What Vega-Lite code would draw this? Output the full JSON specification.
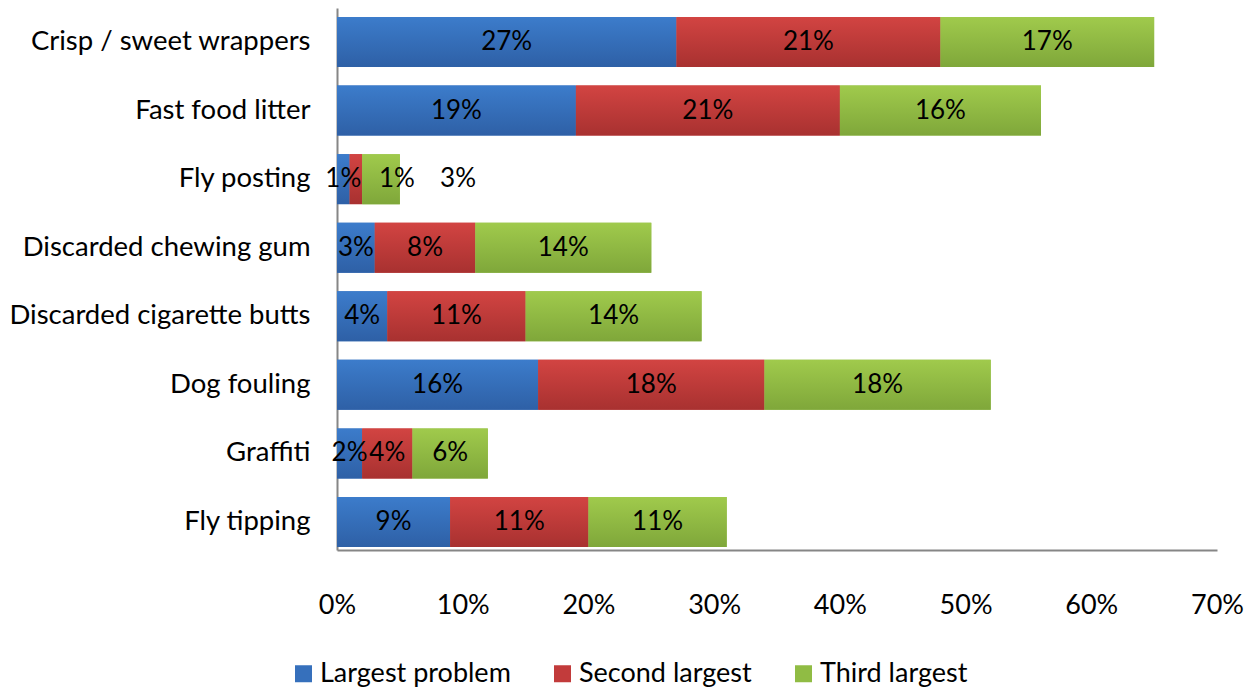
{
  "$schema": "https://vega.github.io/schema/vega-lite/v6.json",
  "autosize": {"type": "none"},
  "width": 880,
  "height": 542,
  "padding": {"left": 337, "top": 8, "right": 42, "bottom": 139},
  "background": "white",
  "config": {"view": {"stroke": null}, "font": "Lato"},
  "data": {
    "values": [
      {"category": "Crisp / sweet wrappers", "series": "Largest problem", "order": 1, "value": 27},
      {"category": "Crisp / sweet wrappers", "series": "Second largest", "order": 2, "value": 21},
      {"category": "Crisp / sweet wrappers", "series": "Third largest", "order": 3, "value": 17},
      {"category": "Fast food litter", "series": "Largest problem", "order": 1, "value": 19},
      {"category": "Fast food litter", "series": "Second largest", "order": 2, "value": 21},
      {"category": "Fast food litter", "series": "Third largest", "order": 3, "value": 16},
      {"category": "Fly posting", "series": "Largest problem", "order": 1, "value": 1},
      {"category": "Fly posting", "series": "Second largest", "order": 2, "value": 1},
      {"category": "Fly posting", "series": "Third largest", "order": 3, "value": 3},
      {"category": "Discarded chewing gum", "series": "Largest problem", "order": 1, "value": 3},
      {"category": "Discarded chewing gum", "series": "Second largest", "order": 2, "value": 8},
      {"category": "Discarded chewing gum", "series": "Third largest", "order": 3, "value": 14},
      {"category": "Discarded cigarette butts", "series": "Largest problem", "order": 1, "value": 4},
      {"category": "Discarded cigarette butts", "series": "Second largest", "order": 2, "value": 11},
      {"category": "Discarded cigarette butts", "series": "Third largest", "order": 3, "value": 14},
      {"category": "Dog fouling", "series": "Largest problem", "order": 1, "value": 16},
      {"category": "Dog fouling", "series": "Second largest", "order": 2, "value": 18},
      {"category": "Dog fouling", "series": "Third largest", "order": 3, "value": 18},
      {"category": "Graffiti", "series": "Largest problem", "order": 1, "value": 2},
      {"category": "Graffiti", "series": "Second largest", "order": 2, "value": 4},
      {"category": "Graffiti", "series": "Third largest", "order": 3, "value": 6},
      {"category": "Fly tipping", "series": "Largest problem", "order": 1, "value": 9},
      {"category": "Fly tipping", "series": "Second largest", "order": 2, "value": 11},
      {"category": "Fly tipping", "series": "Third largest", "order": 3, "value": 11}
    ]
  },
  "transform": [
    {"stack": "value", "groupby": ["category"], "sort": [{"field": "order"}], "as": ["v0", "v1"]},
    {"calculate": "(datum.v0 + datum.v1) / 2", "as": "mid"},
    {"calculate": "datum.value + '%'", "as": "label"}
  ],
  "encoding": {
    "y": {
      "field": "category",
      "type": "nominal",
      "sort": ["Crisp / sweet wrappers", "Fast food litter", "Fly posting", "Discarded chewing gum", "Discarded cigarette butts", "Dog fouling", "Graffiti", "Fly tipping"],
      "scale": {"paddingInner": 0.271, "paddingOuter": 0.0877, "align": 0.75},
      "axis": {
        "title": null,
        "domainColor": "#868686",
        "domainWidth": 2,
        "ticks": false,
        "tickSize": 0,
        "labelFontSize": 27.5,
        "labelColor": "#000000",
        "labelPadding": 27,
        "labelFont": "Lato",
        "labelLimit": 0
      }
    }
  },
  "layer": [
    {
      "mark": {"type": "bar"},
      "encoding": {
        "x": {
          "field": "v0",
          "type": "quantitative",
          "scale": {"domain": [0, 70], "nice": false},
          "axis": {
            "title": null,
            "values": [0, 10, 20, 30, 40, 50, 60, 70],
            "labelExpr": "datum.value + '%'",
            "grid": false,
            "ticks": false,
            "tickSize": 0,
            "domainColor": "#868686",
            "domainWidth": 2,
            "labelFontSize": 27,
            "labelColor": "#000000",
            "labelPadding": 42,
            "labelFont": "Lato",
            "labelFlush": false
          }
        },
        "x2": {"field": "v1"},
        "color": {
          "field": "series",
          "type": "nominal",
          "scale": {
            "domain": ["Largest problem", "Second largest", "Third largest"],
            "range": ["#3670BC", "#C23B3B", "#90BC44"]
          },
          "legend": {
            "title": null,
            "orient": "none",
            "direction": "horizontal",
            "legendX": -47,
            "legendY": 652,
            "symbolType": "square",
            "symbolSize": 289,
            "symbolStrokeWidth": 0,
            "labelFontSize": 27,
            "labelFont": "Lato",
            "labelColor": "#000000",
            "labelLimit": 0,
            "columnPadding": 38,
            "symbolOffset": 0,
            "labelOffset": 3
          }
        }
      }
    },
    {
      "transform": [{"filter": "datum.order === 1"}],
      "mark": {"type": "bar", "color": {"gradient": "linear", "x1": 0, "y1": 0, "x2": 0, "y2": 1, "stops": [{"offset": 0, "color": "#3C7CCB"}, {"offset": 1, "color": "#2E60A6"}]}},
      "encoding": {"x": {"field": "v0", "type": "quantitative"}, "x2": {"field": "v1"}}
    },
    {
      "transform": [{"filter": "datum.order === 2"}],
      "mark": {"type": "bar", "color": {"gradient": "linear", "x1": 0, "y1": 0, "x2": 0, "y2": 1, "stops": [{"offset": 0, "color": "#D24442"}, {"offset": 1, "color": "#A83130"}]}},
      "encoding": {"x": {"field": "v0", "type": "quantitative"}, "x2": {"field": "v1"}}
    },
    {
      "transform": [{"filter": "datum.order === 3"}],
      "mark": {"type": "bar", "color": {"gradient": "linear", "x1": 0, "y1": 0, "x2": 0, "y2": 1, "stops": [{"offset": 0, "color": "#A0CA4C"}, {"offset": 1, "color": "#7FA73A"}]}},
      "encoding": {"x": {"field": "v0", "type": "quantitative"}, "x2": {"field": "v1"}}
    },
    {
      "transform": [{"filter": "datum.category !== 'Fly posting' || datum.order === 1"}],
      "mark": {"type": "text", "fontSize": 26, "color": "#000000", "font": "Lato"},
      "encoding": {
        "x": {"field": "mid", "type": "quantitative"},
        "text": {"field": "label", "type": "nominal"},
        "detail": {"field": "series"}
      }
    },
    {
      "transform": [{"filter": "datum.category === 'Fly posting' && datum.order === 2"}],
      "mark": {"type": "text", "fontSize": 26, "color": "#000000", "font": "Lato", "dx": 41},
      "encoding": {
        "x": {"field": "mid", "type": "quantitative"},
        "text": {"field": "label", "type": "nominal"}
      }
    },
    {
      "transform": [{"filter": "datum.category === 'Fly posting' && datum.order === 3"}],
      "mark": {"type": "text", "fontSize": 26, "color": "#000000", "font": "Lato", "dx": 77},
      "encoding": {
        "x": {"field": "mid", "type": "quantitative"},
        "text": {"field": "label", "type": "nominal"}
      }
    }
  ]
}
